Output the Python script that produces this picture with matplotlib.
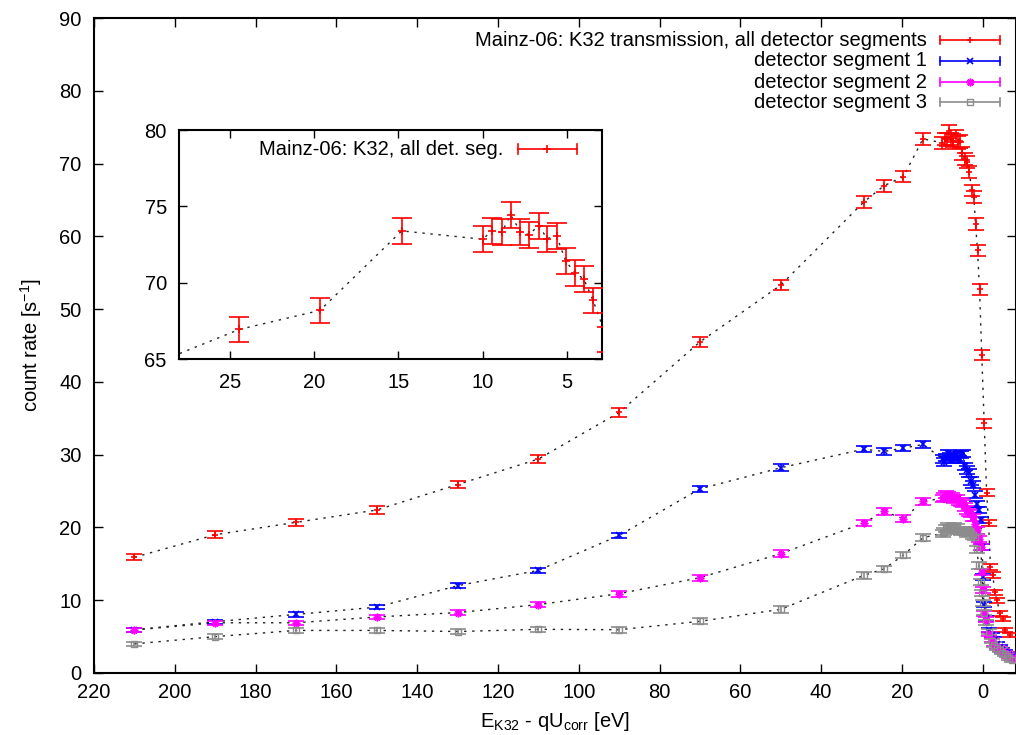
import matplotlib
matplotlib.use('Agg')
import matplotlib.pyplot as plt
from matplotlib.lines import Line2D

plt.rcParams['font.family'] = ['Liberation Sans', 'DejaVu Sans']
plt.rcParams['mathtext.default'] = 'regular'

# ---------------- data ----------------
red_x = [210, 190, 170, 150, 130, 110, 90, 70, 50, 29.5, 24.45, 19.65, 14.8,
         9.98, 9.47, 8.86, 8.34, 7.75, 7.26, 6.67, 6.17, 5.6, 5.06, 4.5, 3.99, 3.44,
         2.6, 2.2, 1.8, 1.3, 0.8, 0.25, -0.35, -0.95, -1.45, -1.9, -2.45, -3.0,
         -3.45, -4.35, -4.95, -5.55, -6.75]
red_y = [15.9, 19.0, 20.7, 22.4, 25.9, 29.4, 35.8, 45.5, 53.3, 64.7, 66.95, 68.2, 73.4,
         72.85, 73.4, 73.3, 74.45, 73.35, 73.15, 73.75, 72.9, 73.05, 71.4, 70.65, 70.25, 68.85,
         66.3, 65.4, 61.7, 58.1, 52.7, 43.7, 34.3, 24.8, 20.6, 14.6, 13.5, 11.1,
         10.0, 8.2, 7.4, 5.9, 5.2]
red_e = [0.4, 0.45, 0.45, 0.5, 0.5, 0.55, 0.6, 0.65, 0.7, 0.8, 0.8, 0.8, 0.85,
         0.84, 0.85, 0.85, 0.87, 0.85, 0.85, 0.85, 0.85, 0.85, 0.85, 0.84, 0.84, 0.83,
         0.8, 0.8, 0.8, 0.75, 0.75, 0.7, 0.6, 0.5, 0.45, 0.4, 0.4, 0.35,
         0.35, 0.3, 0.3, 0.3, 0.3]

seg_x = [210, 190, 170, 150, 130, 110, 90, 70, 50, 29.5, 24.45, 19.65, 14.8,
         9.9, 9.5, 9.0, 8.5, 8.0, 7.5, 7.0, 6.5, 6.0, 5.5, 5.0, 4.5, 4.0, 3.5, 3.0,
         2.5, 2.0, 1.5, 1.0, 0.5, 0.2, -0.1, -0.4, -0.9, -1.6, -2.3, -2.9, -3.6,
         -4.2, -4.8, -5.4, -6.0, -6.6, -7.2]
seg1_y = [5.95, 7.05, 8.05, 9.05, 12.0, 14.1, 18.9, 25.3, 28.2, 30.75, 30.45, 30.9, 31.4,
          29.4, 29.0, 29.6, 30.2, 29.7, 29.3, 29.8, 29.6, 29.3, 30.0, 30.2, 28.4, 27.9, 27.5, 26.4,
          25.9, 24.5, 23.2, 22.4, 21.0, 17.3, 13.2, 9.4, 7.5, 5.9, 5.2, 4.6, 4.0,
          3.6, 3.2, 2.9, 2.7, 2.5, 2.2]
seg2_y = [5.9, 6.9, 6.9, 7.7, 8.3, 9.4, 10.9, 13.1, 16.4, 20.6, 22.2, 21.2, 23.6,
          24.0, 24.2, 24.5, 24.4, 24.0, 24.3, 23.9, 24.0, 23.6, 23.5, 23.3, 22.8, 22.4, 22.1, 21.9,
          21.4, 20.5, 19.6, 18.4, 17.3, 13.9, 11.4, 8.2, 7.3, 5.4, 4.5, 4.0, 3.6,
          3.3, 3.0, 2.8, 2.6, 2.3, 2.1]
seg3_y = [4.0, 5.0, 5.85, 5.85, 5.7, 6.0, 5.95, 7.1, 8.75, 13.4, 14.3, 16.2, 18.6,
          19.2, 19.4, 19.9, 20.1, 19.9, 19.7, 20.1, 20.0, 19.6, 19.4, 19.6, 19.6, 19.2, 19.3, 19.4,
          18.9, 18.7, 17.0, 14.8, 12.5, 11.0, 9.6, 8.3, 7.0, 5.7, 4.4, 3.9, 3.4,
          3.2, 2.8, 2.6, 2.4, 2.1, 1.8]
seg_e = [0.3, 0.3, 0.3, 0.3, 0.35, 0.35, 0.4, 0.4, 0.45, 0.45, 0.45, 0.45, 0.45,
         0.5, 0.5, 0.5, 0.5, 0.5, 0.5, 0.5, 0.5, 0.5, 0.5, 0.5, 0.5, 0.5, 0.5, 0.5,
         0.5, 0.45, 0.45, 0.45, 0.45, 0.4, 0.4, 0.35, 0.35, 0.3, 0.3, 0.3, 0.25,
         0.25, 0.25, 0.25, 0.25, 0.25, 0.25]

main_xticks = [220, 200, 180, 160, 140, 120, 100, 80, 60, 40, 20, 0]
main_yticks = [0, 10, 20, 30, 40, 50, 60, 70, 80, 90]
inset_xticks = [25, 20, 15, 10, 5]
inset_yticks = [65, 70, 75, 80]

labels = ['Mainz-06: K32 transmission, all detector segments',
          'detector segment 1', 'detector segment 2', 'detector segment 3']
inset_label = 'Mainz-06: K32, all det. seg.'

# ---------------- style ----------------
W, H = 1016, 735
FS = 14.5
RED, BLUE, MAG, GRAY = '#ff0000', '#0000ff', '#ff00ff', '#8c8c8c'
DOT = (0, (1.7, 4.1))
LINEC = '#222222'


def fx(px):
    return px / W


def fy(py):
    return 1 - py / H


fig = plt.figure(figsize=(W / 100, H / 100), dpi=100)
ax = fig.add_axes([fx(94), fy(673), fx(1015.5) - fx(94), fy(18) - fy(673)])

series = [
    (red_x, red_y, red_e, RED, '+', 5, 1.2, 'full'),
    (seg_x, seg1_y, seg_e, BLUE, 'x', 3.8, 1.2, 'full'),
    (seg_x, seg2_y, seg_e, MAG, (8, 2, 0), 5.5, 1.2, 'full'),
    (seg_x, seg3_y, seg_e, GRAY, 's', 4.2, 1.0, 'none'),
]


def draw(a, x, y, e, color, marker, ms, mew, fill, capsize=5.5):
    a.plot(x, y, ls=DOT, color=LINEC, lw=1.0, zorder=2)
    a.errorbar(x, y, yerr=e, fmt='none', ecolor=color, elinewidth=1.2,
               capsize=capsize, capthick=1.2, zorder=3)
    a.plot(x, y, ls='none', marker=marker, color=color, ms=ms, mew=mew,
           fillstyle=fill, zorder=4)


for s in series:
    draw(ax, *s)

ax.set_xlim(220, -8.1)
ax.set_ylim(0, 90)
ax.set_xticks(main_xticks)
ax.set_yticks(main_yticks)
ax.tick_params(direction='in', length=6.5, width=1.0, top=True, right=True,
               labelsize=FS, pad=7)
ax.tick_params(axis='y', pad=9)
for sp in ax.spines.values():
    sp.set_linewidth(1.5)
ax.set_xlabel('E$_{K32}$ - qU$_{corr}$ [eV]', fontsize=FS, labelpad=6)
ax.set_ylabel('count rate [s$^{-1}$]', fontsize=FS, labelpad=11)

# ---------------- main legend (gnuplot style) ----------------
leg_rows = [40, 61, 82, 102]
for (x, y, e, color, marker, ms, mew, fill), lab, ry in zip(series, labels, leg_rows):
    fig.text(fx(927), fy(ry), lab, ha='right', va='center', fontsize=FS)
    fig.add_artist(Line2D([fx(940), fx(1000)], [fy(ry), fy(ry)], color=color, lw=1.2))
    for cx in (940, 1000):
        fig.add_artist(Line2D([fx(cx), fx(cx)], [fy(ry - 4), fy(ry + 4)], color=color, lw=1.2))
    fig.add_artist(Line2D([fx(970)], [fy(ry)], ls='none', marker=marker, color=color,
                          ms=ms, mew=mew, fillstyle=fill))

# ---------------- inset ----------------
ins = fig.add_axes([fx(179.3), fy(359.3), fx(601.7) - fx(179.3), fy(130) - fy(359.3)])
draw(ins, red_x, red_y, red_e, RED, '+', 6, 1.2, 'full', capsize=7)
ins.set_xlim(28, 2.93)
ins.set_ylim(65, 80)
ins.set_xticks(inset_xticks)
ins.set_yticks(inset_yticks)
ins.tick_params(direction='in', length=6, width=1.0, top=True, right=True,
                labelsize=FS)
ins.tick_params(axis='x', pad=10)
ins.tick_params(axis='y', pad=9)
for sp in ins.spines.values():
    sp.set_linewidth(1.5)

iy = 149.3
fig.text(fx(503), fy(iy), inset_label, ha='right', va='center', fontsize=FS)
fig.add_artist(Line2D([fx(517.7), fx(576.7)], [fy(iy), fy(iy)], color=RED, lw=1.2))
for cx in (517.7, 576.7):
    fig.add_artist(Line2D([fx(cx), fx(cx)], [fy(iy - 5), fy(iy + 5)], color=RED, lw=1.2))
fig.add_artist(Line2D([fx(547.2)], [fy(iy)], ls='none', marker='+', color=RED, ms=6, mew=1.2))

fig.savefig('out.png', dpi=100)
